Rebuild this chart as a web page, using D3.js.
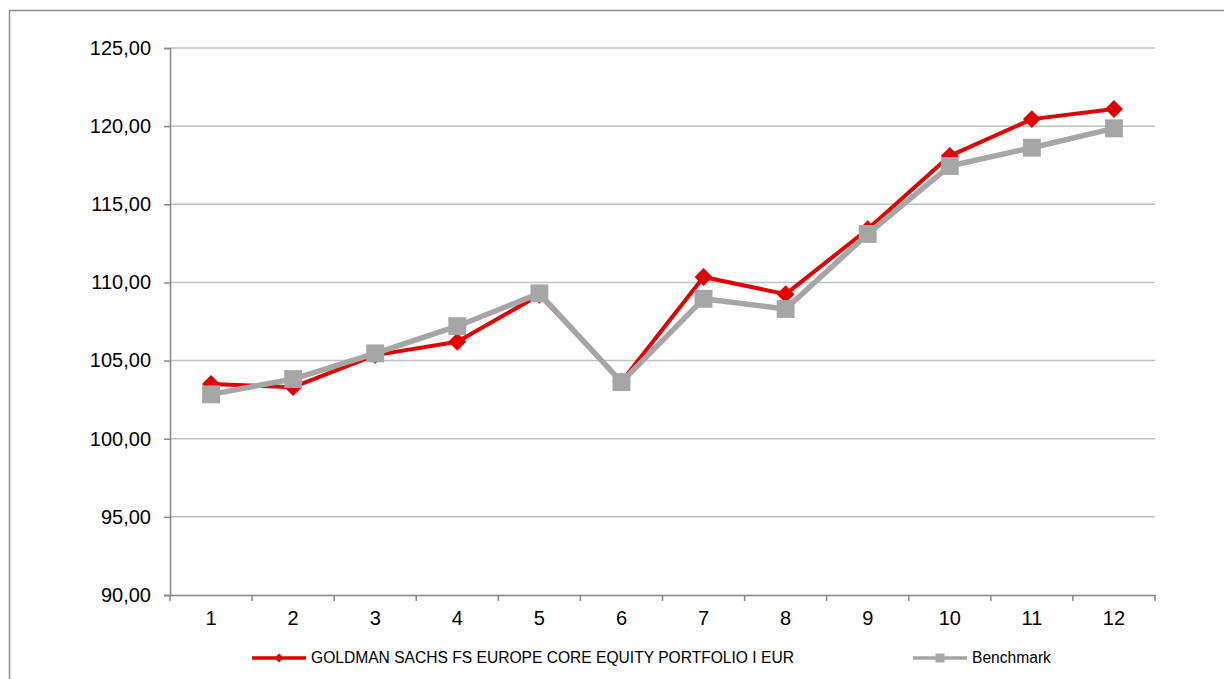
<!DOCTYPE html>
<html>
<head>
<meta charset="utf-8">
<script src="https://cdn.jsdelivr.net/npm/d3@7"></script>
<style>
  html, body { margin: 0; padding: 0; background: #fff; }
  svg { display: block; font-family: "Liberation Sans", Arial, sans-serif; }
</style>
</head>
<body>
<svg id="chart" width="1224" height="679"></svg>
<script>
const categories = ["1","2","3","4","5","6","7","8","9","10","11","12"];
const fundValues = [103.5, 103.3, 105.35, 106.2, 109.2, 103.65, 110.35, 109.25, 113.4, 118.1, 120.45, 121.1];
const benchValues = [102.84, 103.82, 105.46, 107.2, 109.3, 103.62, 108.95, 108.3, 113.1, 117.45, 118.62, 119.86];
const yTicks = [90, 95, 100, 105, 110, 115, 120, 125];
const seriesNames = ["GOLDMAN SACHS FS EUROPE CORE EQUITY PORTFOLIO I EUR", "Benchmark"];

(function () {
const svg = d3.select("#chart");
const plotLeft = 170, plotRight = 1155, plotTop = 48, plotBottom = 595;
const red = "#E00000", grey = "#A6A6A6";

// outer frame
svg.append("rect").attr("x", 9.5).attr("y", 10.5).attr("width", 1400).attr("height", 900)
  .attr("fill", "none").attr("stroke", "#8C8C8C").attr("stroke-width", 1.5);

const x = d3.scaleBand().domain(categories).range([plotLeft, plotRight]).paddingInner(0).paddingOuter(0);
const y = d3.scaleLinear().domain([90, 125]).range([plotBottom, plotTop]);

// gridlines
svg.append("g").selectAll("line").data(yTicks.slice(1)).join("line")
  .attr("x1", plotLeft).attr("x2", plotRight)
  .attr("y1", d => y(d)).attr("y2", d => y(d))
  .attr("stroke", "#C0C0C0").attr("stroke-width", 1.5);

// y axis
const yAxis = svg.append("g").attr("transform", `translate(${plotLeft},0)`)
  .call(d3.axisLeft(y).tickValues(yTicks).tickSize(6).tickPadding(13)
    .tickFormat(d => d3.format(".2f")(d).replace(".", ",")));
yAxis.select(".domain").attr("stroke", "#868686").attr("stroke-width", 1.5);
yAxis.selectAll(".tick line").attr("stroke", "#868686").attr("stroke-width", 1.5);
yAxis.selectAll("text").attr("font-size", 20).attr("fill", "#000")
  .attr("font-family", "'Liberation Sans', Arial, sans-serif");

// x axis
const xAxis = svg.append("g").attr("transform", `translate(0,${plotBottom})`)
  .call(d3.axisBottom(x).tickSize(0).tickPadding(16));
xAxis.select(".domain").attr("stroke", "#868686").attr("stroke-width", 1.5);
xAxis.selectAll("text").attr("font-size", 20).attr("fill", "#000")
  .attr("font-family", "'Liberation Sans', Arial, sans-serif");
// boundary ticks between categories
const bounds = categories.map(c => x(c)).concat([x(categories[categories.length-1]) + x.bandwidth()]);
svg.append("g").selectAll("line").data(bounds).join("line")
  .attr("x1", d => d).attr("x2", d => d)
  .attr("y1", plotBottom).attr("y2", plotBottom + 6)
  .attr("stroke", "#868686").attr("stroke-width", 1.5);

const cx = (d, i) => x(categories[i]) + x.bandwidth() / 2;
const line = d3.line().x(cx).y(d => y(d));

// fund series
svg.append("path").datum(fundValues).attr("d", line)
  .attr("fill", "none").attr("stroke", red).attr("stroke-width", 4).attr("stroke-linejoin", "round");
svg.append("g").selectAll("path").data(fundValues).join("path")
  .attr("d", d3.symbol(d3.symbolSquare, 160)())
  .attr("transform", (d, i) => `translate(${cx(d, i)},${y(d)}) rotate(45)`)
  .attr("fill", red);

// benchmark series
svg.append("path").datum(benchValues).attr("d", line)
  .attr("fill", "none").attr("stroke", grey).attr("stroke-width", 5.5).attr("stroke-linejoin", "round");
svg.append("g").selectAll("path").data(benchValues).join("path")
  .attr("d", d3.symbol(d3.symbolSquare, 320)())
  .attr("transform", (d, i) => `translate(${cx(d, i)},${y(d)})`)
  .attr("fill", grey);

// legend
const legendY = 658;
const legend = [
  {name: seriesNames[0], color: red, x0: 252, size: 40, rot: 45},
  {name: seriesNames[1], color: grey, x0: 913, size: 80, rot: 0}
];
const lg = svg.append("g").selectAll("g").data(legend).join("g");
lg.append("line").attr("x1", d => d.x0).attr("x2", d => d.x0 + 54)
  .attr("y1", legendY).attr("y2", legendY)
  .attr("stroke", d => d.color).attr("stroke-width", 3.5);
lg.append("path").attr("d", d => d3.symbol(d3.symbolSquare, d.size)())
  .attr("transform", d => `translate(${d.x0 + 27},${legendY}) rotate(${d.rot})`)
  .attr("fill", d => d.color);
lg.append("text").attr("x", d => d.x0 + 59).attr("y", legendY)
  .attr("dy", "0.35em").attr("font-size", 15.6).attr("fill", "#000")
  .text(d => d.name);
})();
</script>
</body>
</html>
